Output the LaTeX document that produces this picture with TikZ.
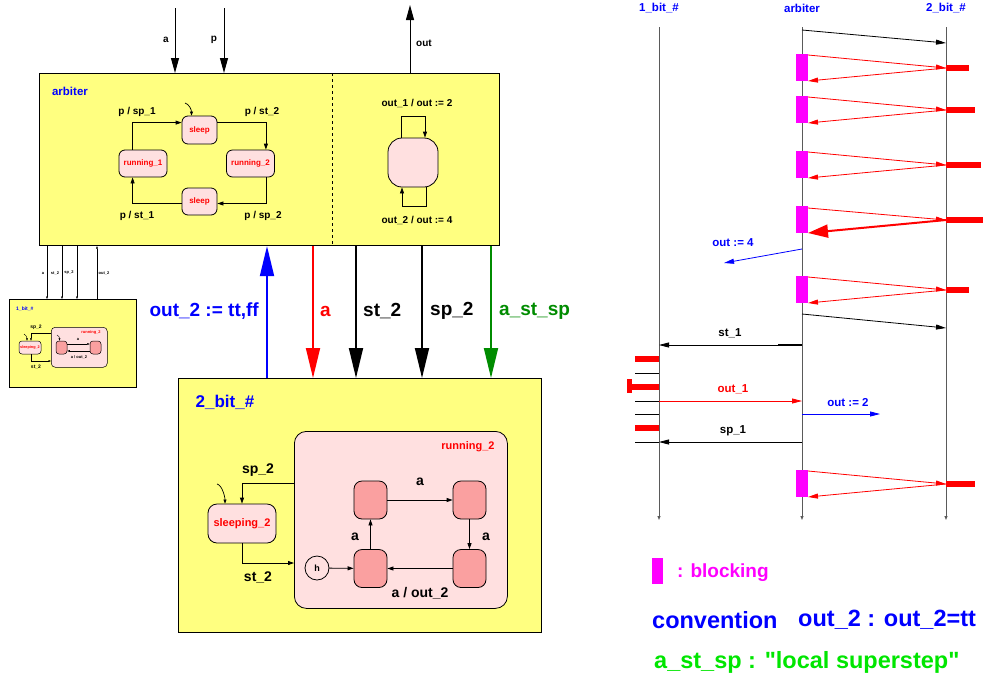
\documentclass[tikz,border=0pt]{standalone}
\usepackage{fontspec}
\setmainfont{Liberation Sans}[Ligatures=TeXOff]
\usetikzlibrary{arrows.meta,calc}
\newcommand\fs[1]{\fontsize{#1}{#1}\selectfont\bfseries}
\definecolor{yel}{RGB}{255,255,128}
\definecolor{pinkl}{RGB}{255,224,224}
\definecolor{salmon}{RGB}{250,160,160}
\definecolor{garrow}{RGB}{0,140,0}
\definecolor{glegend}{RGB}{0,230,0}
\definecolor{lifegray}{RGB}{90,90,90}
\definecolor{mag}{RGB}{255,0,255}
\tikzset{
  box/.style={draw, line width=1.1pt, fill=yel, anchor=north west, inner sep=0pt},
  st/.style={draw, line width=0.8pt, fill=pinkl, rounded corners=6pt, inner sep=0pt, font=\fs{8}, text=red},
  sub/.style={draw, line width=0.8pt, fill=salmon, rounded corners=8pt, inner sep=0pt, minimum width=33pt, minimum height=38pt},
  tr/.style={line width=0.8pt, -{Triangle[length=6pt,width=4pt]}},
  trs/.style={line width=0.4pt, -{Triangle[length=2.5pt,width=1.8pt]}},
  midarrow/.style={line width=1pt, -{Triangle[length=15pt,width=8pt]}},
  big/.style={line width=1.8pt, -{Triangle[length=30pt,width=14pt]}},
  lbl/.style={font=\fs{10}, inner sep=0pt},
  biglbl/.style={font=\fs{19}, inner sep=0pt},
  midlbl/.style={font=\fs{14}, inner sep=0pt},
  tiny/.style={font=\fs{4}, inner sep=0pt},
  sh/.style={font=\fs{11.5}, text=blue, inner sep=0pt},
  seqlbl/.style={font=\fs{11.5}, inner sep=0pt},
  life/.style={line width=0.9pt, lifegray, -{Triangle[length=4pt,width=3pt]}},
  msg/.style={line width=0.8pt, -{Triangle[length=10pt,width=5pt]}},
  blk/.style={fill=mag},
  rbar/.style={fill=red}
}
\begin{document}
\begin{tikzpicture}[x=1pt,y=-1pt]
\useasboundingbox[fill=white] (0,0) rectangle (983,681);

% ================= arbiter =================
\node[box, minimum width=460pt, minimum height=172pt] (arb) at (39,73) {};
\draw[dashed, line width=0.8pt] ([xshift=293pt]arb.north west) -- ([xshift=293pt]arb.south west);
\node[sh] (arbl) at (70,91) {arbiter};

\node[st, minimum width=35pt, minimum height=28pt] (s1) at (199.5,130) {sleep};
\node[st, minimum width=48pt, minimum height=27pt] (r1) at (143,163.5) {running\_1};
\node[st, minimum width=48pt, minimum height=27pt] (r2) at (250.5,163.5) {running\_2};
\node[st, minimum width=35pt, minimum height=27pt] (s2) at (199.5,201.5) {sleep};

\draw[tr] ([xshift=14pt]r1.north west) |- ([yshift=-7pt]s1.north west);
\draw[tr] ([yshift=-7pt]s1.north east) -| ([xshift=-9pt]r2.north east);
\draw[tr] ([xshift=-9pt]r2.south east) |- ([yshift=-2pt]s2.east);
\draw[tr] ([yshift=-2pt]s2.west) -| ([xshift=14pt]r1.south west);
\coordinate (i1) at (185,103);
\draw[line width=0.7pt, -{Triangle[length=4pt,width=3pt]}] (i1) .. controls +(4,1) and +(0,-6) .. ([xshift=-8pt]s1.north);

\node[lbl] at (137,112) {p / sp\_1};
\node[lbl] at (262,112) {p / st\_2};
\node[lbl] at (137,216) {p / st\_1};
\node[lbl] at (263,216) {p / sp\_2};

\node[st, minimum width=50pt, minimum height=49pt, rounded corners=14pt] (o) at (413,162.5) {};
\draw[tr] ([xshift=-12pt]o.north) -- ++(0,-21) -| ([xshift=12pt]o.north);
\draw[tr] ([xshift=13pt]o.south) -- ++(0,19) -| ([xshift=-11pt]o.south);
\node[lbl] at (417,103) {out\_1 / out := 2};
\node[lbl] at (417,220) {out\_2 / out := 4};

% inputs / output
\coordinate (ta) at (175,8);
\coordinate (tp) at (224,8);
\coordinate (to) at (410,5);
\draw[midarrow] (ta) -- ([xshift=136pt]arb.north west);
\draw[midarrow] (tp) -- ([xshift=185pt]arb.north west);
\draw[midarrow] ([xshift=371pt]arb.north west) -- (to);
\node[lbl] at (166,40) {a};
\node[lbl] at (214,40) {p};
\node[lbl] at (424,43) {out};

% ================= 2_bit =================
\node[box, minimum width=363pt, minimum height=254pt] (bit2) at (178,378) {};
\node[font=\fs{17}, text=blue, inner sep=0pt] at (225,402) {2\_bit\_\#};

\draw[big, blue] ([xshift=89pt]bit2.north west) -- ([xshift=228pt]arb.south west);
\draw[big, red] ([xshift=274pt]arb.south west) -- ([xshift=135pt]bit2.north west);
\draw[big] ([xshift=317pt]arb.south west) -- ([xshift=178pt]bit2.north west);
\draw[big] ([xshift=383pt]arb.south west) -- ([xshift=244pt]bit2.north west);
\draw[big, garrow] ([xshift=452pt]arb.south west) -- ([xshift=313pt]bit2.north west);
\node[biglbl, text=blue, anchor=east] at (259,311) {out\_2 := tt,ff};
\node[biglbl, text=red, anchor=west] at (320,311) {a};
\node[biglbl, anchor=west] at (363,311) {st\_2};
\node[biglbl, anchor=west] at (430,311) {sp\_2};
\node[biglbl, text=garrow, anchor=west] at (499,311) {a\_st\_sp};

\node[draw, line width=0.8pt, fill=pinkl, rounded corners=12pt, anchor=north west, inner sep=0pt,
      minimum width=213pt, minimum height=177pt] (run2) at (294,431) {};
\node[font=\fs{11}, text=red, inner sep=0pt] at (468,447) {running\_2};
\node[st, font=\fs{11}, rounded corners=9pt, minimum width=68pt, minimum height=39pt] (sl2) at (242,523.5) {sleeping\_2};

\node[sub] (tl) at (370.5,500) {};
\node[sub] (trr) at (469.5,500) {};
\node[sub] (bl) at (370.5,568.5) {};
\node[sub] (br) at (469.5,568.5) {};
\node[draw, circle, line width=0.8pt, fill=pinkl, minimum size=24pt, inner sep=0pt, font=\fs{9}] (h) at (317,568) {h};

\draw[tr] (h) -- (bl);
\draw[tr] (bl) -- (tl);
\draw[tr] (tl) -- (trr);
\draw[tr] (trr) -- (br);
\draw[tr] (br) -- (bl);
\node[midlbl] at (355,537) {a};
\node[midlbl] at (420,482) {a};
\node[midlbl] at (486,537) {a};
\node[midlbl] at (420,593) {a / out\_2};

\draw[tr] ([yshift=-52pt]run2.north west) -| (sl2.north);
\draw[tr] (sl2.south) |- ([yshift=-132pt]run2.north west);
\coordinate (i2) at (217,484);
\draw[line width=0.7pt, -{Triangle[length=4pt,width=3pt]}] (i2) .. controls +(5,1) and +(0,-7) .. ([xshift=-17pt]sl2.north);
\node[midlbl] at (258,470) {sp\_2};
\node[midlbl] at (258,577) {st\_2};

% ================= 1_bit (small) =================
\node[box, line width=0.7pt, minimum width=127pt, minimum height=88pt] (bit1) at (9,299) {};
\draw[trs] ([xshift=8pt]arb.south west) -- ([xshift=38pt]bit1.north west);
\draw[trs] ([xshift=23pt]arb.south west) -- ([xshift=53pt]bit1.north west);
\draw[trs] ([xshift=38pt]arb.south west) -- ([xshift=68pt]bit1.north west);
\draw[trs] ([xshift=88pt]bit1.north west) -- ([xshift=58pt]arb.south west);
\node[tiny] at (43,273) {a};
\node[tiny] at (55,273) {st\_2};
\node[tiny] at (69,273) {sp\_2};
\node[tiny] at (104,273) {out\_2};
\node[font=\fs{5}, text=blue, inner sep=0pt, anchor=west] at (16,309) {1\_bit\_\#};

\node[draw, line width=0.5pt, fill=pinkl, rounded corners=4pt, anchor=north west, inner sep=0pt,
      minimum width=56pt, minimum height=40pt] (mrun) at (51,327) {};
\node[font=\fs{4}, text=red, inner sep=0pt] at (91,332) {running\_2};
\node[draw, line width=0.5pt, fill=pinkl, rounded corners=3pt, inner sep=0pt, font=\fs{3.8}, text=red,
      minimum width=22pt, minimum height=13pt] (msl) at (30,347.5) {sleeping\_2};
\node[draw, line width=0.5pt, fill=salmon, rounded corners=3pt, inner sep=0pt, minimum width=11pt, minimum height=13pt] (ml) at (61.5,347.5) {};
\node[draw, line width=0.5pt, fill=salmon, rounded corners=3pt, inner sep=0pt, minimum width=11pt, minimum height=13pt] (mr) at (95.5,347.5) {};
\draw[trs] ([yshift=3.5pt]ml.east) -- ([yshift=3.5pt]mr.west);
\draw[trs] ([yshift=-3.5pt]mr.west) -- ([yshift=-3.5pt]ml.east);
\draw[trs] ([yshift=-6pt]mrun.north west) -| ([xshift=1pt]msl.north);
\draw[trs] ([xshift=1pt]msl.south) |- ([yshift=-34pt]mrun.north west);
\coordinate (i3) at (24,334);
\draw[trs] (i3) .. controls +(2,0.5) and +(0,-3) .. ([xshift=-3pt]msl.north);
\coordinate (i4) at (57,335);
\draw[trs] (i4) .. controls +(2,0.5) and +(0,-3) .. ([xshift=-2pt]ml.north);
\node[tiny] at (78,339) {a};
\node[tiny] at (79,357.5) {a / out\_2};
\node[font=\fs{5}, inner sep=0pt] at (36,327) {sp\_2};
\node[font=\fs{5}, inner sep=0pt] at (36,367) {st\_2};

% ================= sequence diagram =================
\node[sh] (h1) at (659,8) {1\_bit\_\#};
\node[sh] (h2) at (802,8) {arbiter};
\node[sh] (h3) at (946,8) {2\_bit\_\#};
\draw[life] (659,27) -- (659,520);
\draw[life] (802,27) -- (802,520);
\draw[life] (946,27) -- (946,520);

\draw[msg] (802,30) -- (946,43);

\foreach \ya/\xe in {54/969, 96/975, 151/981, 276/969, 470/975} {
  \fill[blk] (796,\ya) rectangle (808,\ya+27);
  \fill[rbar] (946,\ya+11) rectangle (\xe,\ya+17);
  \draw[msg, red] (808,\ya+1) -- (946,\ya+14);
  \draw[msg, red] (946,\ya+14) -- (808,\ya+27);
}
\fill[blk] (796,206) rectangle (808,233);
\fill[rbar] (946,217) rectangle (983,223);
\draw[msg, red] (808,208) -- (946,220);
\draw[red, line width=2pt, -{Triangle[length=20pt,width=13pt]}] (946,220) -- (808,233);

\draw[msg, blue] (802,249) -- (724,263);
\node[seqlbl, text=blue] at (733,243) {out := 4};

\draw[msg] (802,314) -- (946,328);

\draw[msg] (802,345) -- (659,345);
\draw[line width=1.3pt] (778,345) -- (802,345);
\node[seqlbl] at (730,333) {st\_1};

\fill[rbar] (635,356) rectangle (659,362);
\draw[line width=0.8pt] (635,373) -- (659,373);
\fill[rbar] (627,384) rectangle (659,390);
\fill[rbar] (627,379) rectangle (632,393);
\draw[line width=0.8pt] (635,401) -- (659,401);
\draw[line width=0.8pt] (635,414) -- (659,414);
\fill[rbar] (635,425) rectangle (659,431);
\draw[line width=0.8pt] (635,442) -- (659,442);

\draw[msg, red] (659,401) -- (802,401);
\node[seqlbl, text=red] at (733,389) {out\_1};
\draw[msg, blue] (802,414) -- (880,414);
\node[seqlbl, text=blue] at (848,403) {out := 2};
\draw[msg] (802,442) -- (659,442);
\node[seqlbl] at (733,431) {sp\_1};

% ================= legend =================
\fill[blk] (652,558) rectangle (663,584);
\node[font=\fs{19}, text=mag, inner sep=0pt, anchor=west] at (677,573) {: blocking};
\node[font=\fs{23.5}, text=blue, inner sep=0pt, anchor=west] at (652,620) {convention};
\node[font=\fs{23.5}, text=blue, inner sep=0pt, anchor=west] at (798,620) {out\_2 : out\_2=tt};
\node[font=\fs{23.5}, text=glegend, inner sep=0pt, anchor=west] at (654,662) {a\_st\_sp : "local superstep"};
\end{tikzpicture}
\end{document}
